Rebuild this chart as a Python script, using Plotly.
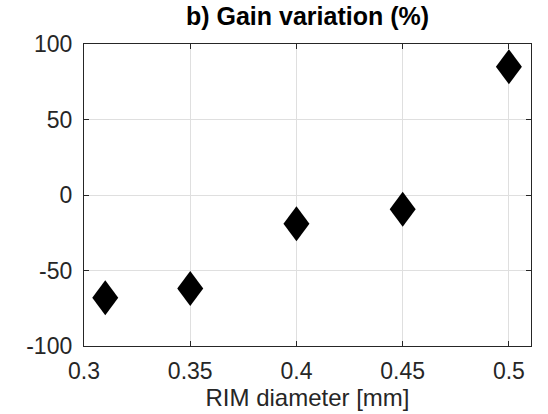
import plotly.graph_objects as go

# Data
rim_diameter_mm = [0.31, 0.35, 0.40, 0.45, 0.50]
gain_variation_pct = [-68, -62, -19, -9.5, 85]

x_tick_vals = [0.3, 0.35, 0.4, 0.45, 0.5]
x_tick_text = ["0.3", "0.35", "0.4", "0.45", "0.5"]
y_tick_vals = [-100, -50, 0, 50, 100]
y_tick_text = ["-100", "-50", "0", "50", "100"]

FONT = "Liberation Sans, Arial, Helvetica, sans-serif"
AX_COLOR = "#262626"
GRID_COLOR = "#dfdfdf"

fig = go.Figure()
fig.add_trace(go.Scatter(
    x=rim_diameter_mm, y=gain_variation_pct, mode="markers",
    marker=dict(symbol="diamond", size=1, color="rgba(0,0,0,0)"),
    showlegend=False, hoverinfo="x+y",
))

# MATLAB-style diamonds (taller than wide), anchored at the data points
half_w, half_h = 13, 17.5
diamond_path = f"M0,{half_h} L{half_w},0 L0,{-half_h} L{-half_w},0 Z"
for xv, yv in zip(rim_diameter_mm, gain_variation_pct):
    fig.add_shape(
        type="path", xref="x", yref="y",
        xsizemode="pixel", ysizemode="pixel",
        xanchor=xv, yanchor=yv, path=diamond_path,
        fillcolor="black", line=dict(color="black", width=0),
    )

axis_common = dict(
    showline=True, linecolor=AX_COLOR, linewidth=1.3, mirror="ticks",
    ticks="inside", ticklen=5, tickcolor=AX_COLOR, tickwidth=1.3,
    showgrid=True, gridcolor=GRID_COLOR, gridwidth=1.3, zeroline=False,
    tickfont=dict(family=FONT, size=23, color=AX_COLOR),
    automargin=False,
)

fig.update_xaxes(
    range=[0.3, 0.5104], tickvals=x_tick_vals, ticktext=x_tick_text,
    ticklabelstandoff=4,
    title=dict(text="RIM diameter [mm]", font=dict(family=FONT, size=24, color=AX_COLOR), standoff=6),
    **axis_common,
)
fig.update_yaxes(
    range=[-100, 100], tickvals=y_tick_vals, ticktext=y_tick_text,
    ticklabelstandoff=6,
    **axis_common,
)

fig.update_layout(
    width=548, height=414,
    margin=dict(l=84, r=17, t=44, b=68, autoexpand=False),
    paper_bgcolor="white", plot_bgcolor="white",
    title=dict(text="<b>b) Gain variation (%)</b>", x=0.5, xref="paper",
               y=1, yref="container", yanchor="top", pad=dict(t=7),
               font=dict(family=FONT, size=25, color="black")),
)

fig.write_html("out.html")
